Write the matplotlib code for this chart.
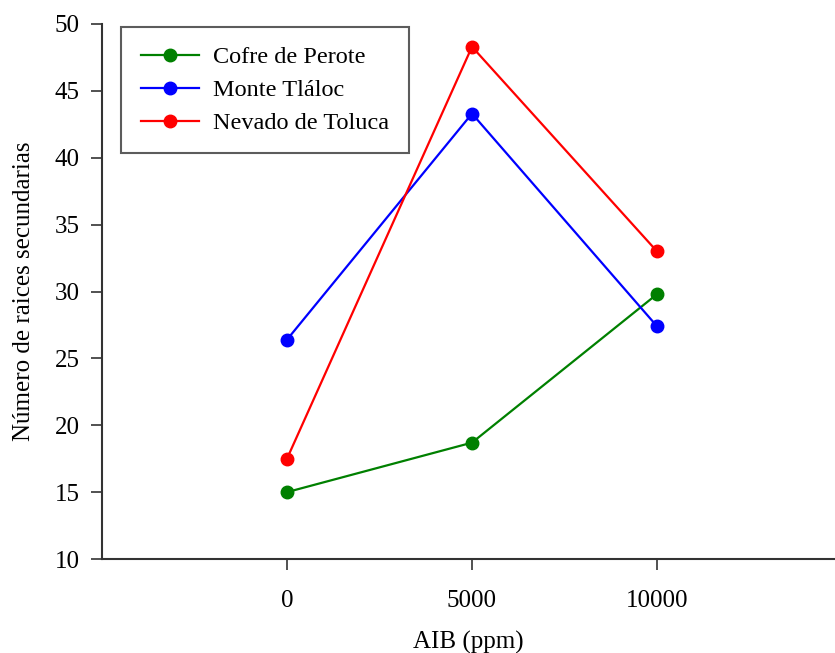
import matplotlib
matplotlib.use("Agg")
import matplotlib.pyplot as plt

doses = [0, 5000, 10000]
xtick_labels = ["0", "5000", "10000"]
series_names = ["Cofre de Perote", "Monte Tláloc", "Nevado de Toluca"]
cofre = [15.0, 18.7, 29.8]
monte = [26.4, 43.3, 27.4]
nevado = [17.5, 48.3, 33.0]
colors = ["#008000", "#0000ff", "#ff0000"]

plt.rcParams['font.family'] = ['Liberation Serif', 'DejaVu Serif']

fig = plt.figure(figsize=(8.35, 6.53), dpi=100)
ax = fig.add_axes([102/835, 1 - 559/653, 1 - 102/835, (559 - 24)/653])

for vals, name, c in zip([cofre, monte, nevado], series_names, colors):
    ax.plot(doses, vals, color=c, marker='o', markersize=9, linewidth=1.6, label=name)

ax.set_xlim(-5000, 14811)
ax.set_ylim(10, 50)
ax.set_xticks(doses)
ax.set_xticklabels(xtick_labels)
ax.set_yticks(range(10, 51, 5))
ax.spines['top'].set_visible(False)
ax.spines['right'].set_visible(False)
for s in ['left', 'bottom']:
    ax.spines[s].set_color('#333333')
    ax.spines[s].set_linewidth(1.5)
ax.tick_params(axis='both', direction='out', length=8, width=1.2, color='#333333',
               labelsize=18, pad=8)
ax.tick_params(axis='x', pad=14)

ax.set_xlabel("AIB (ppm)", fontsize=18, labelpad=14)
ax.set_ylabel("Número de raices secundarias", fontsize=18, labelpad=14)

leg = ax.legend(loc='upper left', bbox_to_anchor=(0.026, 0.995), fontsize=17.5,
                frameon=True, fancybox=False, edgecolor='#333333',
                handlelength=2.4, borderpad=0.8, labelspacing=0.45, handletextpad=0.6,
                borderaxespad=0)
leg.get_frame().set_linewidth(1.5)

fig.savefig("out.png", dpi=100)
